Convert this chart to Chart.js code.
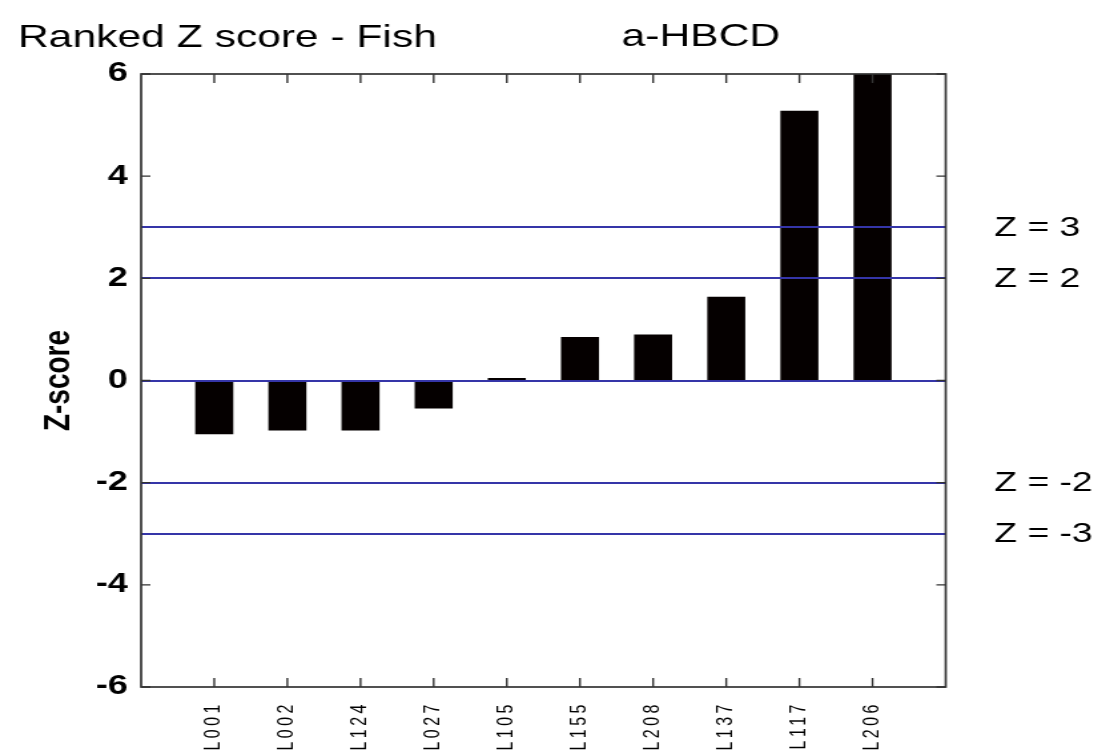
<!DOCTYPE html>
<html>
<head>
<meta charset="utf-8">
<script src="https://cdn.jsdelivr.net/npm/chart.js@4"></script>
<style>
  html, body { margin: 0; padding: 0; background: #fff; overflow: hidden; }
  #wrap { position: absolute; left: 0; top: 0; width: 840px; height: 755px; transform: scaleX(1.331); transform-origin: 0 0; }
</style>
</head>
<body>
<div id="wrap"><canvas id="c"></canvas></div>
<script>
const titleText = 'Ranked Z score - Fish';
const analyteText = 'a-HBCD';
const yAxisTitle = 'Z-score';
const categories = ['L001', 'L002', 'L124', 'L027', 'L105', 'L155', 'L208', 'L137', 'L117', 'L206'];
const zScores = [-1.05, -0.98, -0.98, -0.55, 0.05, 0.85, 0.90, 1.64, 5.28, 6.0];
const limitValues = [3, 2, 0, -2, -3];
const limitLabels = ['Z = 3', 'Z = 2', '', 'Z = -2', 'Z = -3'];
const yTicks = [-6, -4, -2, 0, 2, 4, 6];

const barData = categories.map((c, i) => ({ x: i + 1, y: zScores[i] }));

const PLOT_LEFT = 106, PLOT_RIGHT = 710.5, PLOT_TOP = 74, PLOT_BOTTOM = 687;
const W = 840, H = 755;

const spacingPlugin = {
  id: 'xLabelSpacing',
  afterLayout(chart) {
    const xs = chart.scales.x;
    if (xs._spacingWrapped) return;
    const orig = xs.drawLabels;
    xs.drawLabels = function (area) {
      const ctx = this.ctx;
      ctx.save();
      ctx.letterSpacing = '3.5px';
      orig.call(this, area);
      ctx.restore();
    };
    xs._spacingWrapped = true;
  }
};

const decorPlugin = {
  id: 'decor',
  afterDatasetsDraw(chart) {
    const ctx = chart.ctx, a = chart.chartArea;
    const xs = chart.scales.x, ys = chart.scales.y;
    ctx.save();
    ctx.strokeStyle = '#3535a8';
    ctx.lineWidth = 2;
    limitValues.forEach(v => {
      const y = Math.round(ys.getPixelForValue(v));
      ctx.beginPath(); ctx.moveTo(a.left, y); ctx.lineTo(a.right, y); ctx.stroke();
    });
    ctx.strokeStyle = '#333';
    ctx.lineWidth = 1.7;
    ctx.strokeRect(a.left, a.top, a.right - a.left, a.bottom - a.top);
    ctx.lineWidth = 1.4;
    ys.ticks.forEach(t => {
      const y = ys.getPixelForValue(t.value);
      ctx.beginPath();
      ctx.moveTo(a.left, y); ctx.lineTo(a.left + 7, y);
      ctx.moveTo(a.right, y); ctx.lineTo(a.right - 7, y);
      ctx.stroke();
    });
    xs.ticks.forEach(t => {
      const x = xs.getPixelForValue(t.value);
      ctx.beginPath();
      ctx.moveTo(x, a.top); ctx.lineTo(x, a.top + 9);
      ctx.moveTo(x, a.bottom); ctx.lineTo(x, a.bottom - 9);
      ctx.stroke();
    });
    ctx.fillStyle = '#000';
    ctx.font = '28px "Liberation Sans", Arial, sans-serif';
    ctx.textAlign = 'left';
    ctx.textBaseline = 'middle';
    limitValues.forEach((v, i) => {
      if (!limitLabels[i]) return;
      ctx.fillText(limitLabels[i], 747, ys.getPixelForValue(v) + 1);
    });
    ctx.font = '32px "Liberation Sans", Arial, sans-serif';
    ctx.textBaseline = 'alphabetic';
    ctx.fillText(titleText, 13.5, 47);
    ctx.fillText(analyteText, 467, 46);
    ctx.restore();
  }
};

new Chart(document.getElementById('c'), {
  type: 'bar',
  data: {
    datasets: [{
      data: barData,
      backgroundColor: '#050000',
      borderWidth: 0,
      barPercentage: 0.52,
      categoryPercentage: 1.0
    }]
  },
  options: {
    responsive: true,
    maintainAspectRatio: false,
    animation: false,
    devicePixelRatio: 1,
    layout: { padding: { left: 0, top: PLOT_TOP, right: W - PLOT_RIGHT, bottom: 0 } },
    plugins: { legend: { display: false }, tooltip: { enabled: false } },
    scales: {
      x: {
        type: 'linear',
        offset: false,
        min: 0, max: 11,
        afterBuildTicks(scale) { scale.ticks = categories.map((c, i) => ({ value: i + 1 })); },
        afterFit(scale) { scale.height = H - PLOT_BOTTOM; },
        grid: { display: false, drawTicks: false },
        border: { display: false },
        ticks: {
          autoSkip: false,
          maxRotation: 90, minRotation: 90,
          padding: 14,
          color: '#000',
          font: { family: '"Liberation Sans", Arial, sans-serif', size: 16 },
          callback(v) { return categories[v - 1] || ''; }
        }
      },
      y: {
        min: -6, max: 6,
        afterBuildTicks(scale) { scale.ticks = yTicks.map(v => ({ value: v })); },
        afterFit(scale) { scale.width = PLOT_LEFT; },
        grid: { display: false, drawTicks: false },
        border: { display: false },
        ticks: {
          padding: 10,
          color: '#000',
          font: { family: '"Liberation Sans", Arial, sans-serif', size: 27, weight: 'bold' }
        },
        title: {
          display: true,
          text: yAxisTitle,
          color: '#000',
          padding: { top: 27, bottom: 0 },
          font: { family: '"Liberation Sans", Arial, sans-serif', size: 28, weight: 'bold' }
        }
      }
    }
  },
  plugins: [spacingPlugin, decorPlugin]
});
</script>
</body>
</html>
